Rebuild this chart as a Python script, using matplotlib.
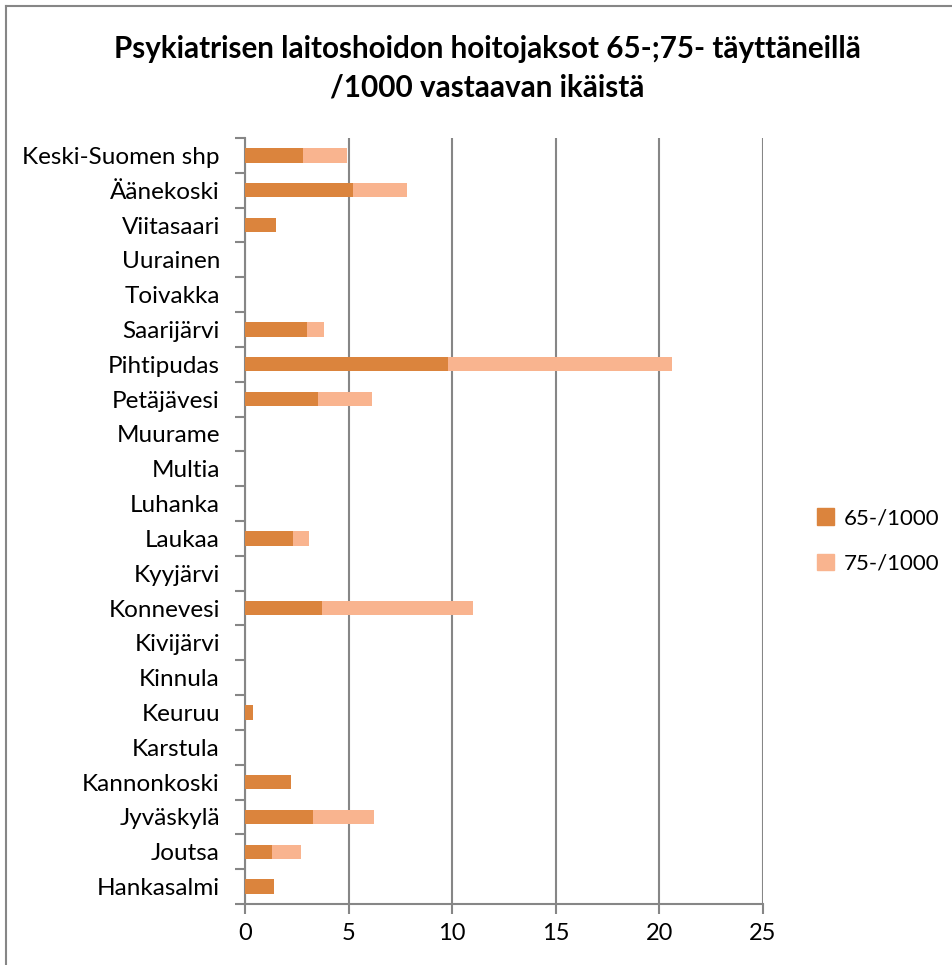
import matplotlib.pyplot as plt
import matplotlib.lines as mlines
from matplotlib.patches import Patch

# categories from bottom to top
kunnat = ['Hankasalmi', 'Joutsa', 'Jyväskylä', 'Kannonkoski', 'Karstula', 'Keuruu',
          'Kinnula', 'Kivijärvi', 'Konnevesi', 'Kyyjärvi', 'Laukaa', 'Luhanka',
          'Multia', 'Muurame', 'Petäjävesi', 'Pihtipudas', 'Saarijärvi', 'Toivakka',
          'Uurainen', 'Viitasaari', 'Äänekoski', 'Keski-Suomen shp']
v65 = [1.42, 1.29, 3.27, 2.21, 0, 0.40, 0, 0, 3.71, 0, 2.31, 0,
       0, 0, 3.50, 9.81, 2.98, 0, 0, 1.52, 5.21, 2.79]
v75 = [0, 1.42, 2.94, 0, 0, 0, 0, 0, 7.30, 0, 0.79, 0,
       0, 0, 2.61, 10.82, 0.84, 0, 0, 0, 2.60, 2.13]

c65 = '#DB843D'
c75 = '#F9B48F'
grid_c = '#868686'
plt.rcParams['font.family'] = ['Lato', 'DejaVu Sans']

fig = plt.figure(figsize=(9.52, 9.65), dpi=100)
ax = fig.add_axes([245 / 952, 1 - 904 / 965, (763 - 245) / 952, (904 - 138) / 965])

y = list(range(len(kunnat)))
ax.barh(y, v65, height=0.41, color=c65, label='65-/1000', zorder=3)
ax.barh(y, v75, left=v65, height=0.41, color=c75, label='75-/1000', zorder=3)

ax.set_xlim(0, 25)
ax.set_ylim(-0.5, len(kunnat) - 0.5)
ax.set_xticks([0, 5, 10, 15, 20, 25])
ax.xaxis.grid(True, color=grid_c, linewidth=1.5, zorder=0)
ax.set_yticks(y)
ax.set_yticklabels(kunnat, fontsize=17.5)
ax.set_yticks([i - 0.5 for i in range(len(kunnat) + 1)], minor=True)
ax.tick_params(axis='y', which='major', length=0, pad=18)
ax.tick_params(axis='y', which='minor', length=7, width=1.5, color=grid_c)
ax.tick_params(axis='x', length=7, width=1.5, color=grid_c, labelsize=17, pad=7)
for s in ['top', 'right']:
    ax.spines[s].set_visible(False)
for s in ['left', 'bottom']:
    ax.spines[s].set_color(grid_c)
    ax.spines[s].set_linewidth(1.5)

handles = [Patch(color=c65, label='65-/1000'), Patch(color=c75, label='75-/1000')]
fig.legend(handles=handles, loc='center left', bbox_to_anchor=(817 / 952, 1 - 541 / 965),
           frameon=False, fontsize=16, handlelength=0.75, handleheight=0.75,
           handletextpad=0.45, labelspacing=1.15, borderpad=0, borderaxespad=0)

fig.text(487 / 952, 1 - 68 / 965,
         'Psykiatrisen laitoshoidon hoitojaksot 65-;75- täyttäneillä\n/1000 vastaavan ikäistä',
         ha='center', va='center', fontsize=21.3, fontweight='bold', linespacing=1.45)

# chart border (left and top edges visible)
fig.add_artist(mlines.Line2D([6 / 952, 6 / 952], [0, 1 - 6 / 965], color=grid_c, linewidth=1.5))
fig.add_artist(mlines.Line2D([6 / 952, 1], [1 - 6 / 965, 1 - 6 / 965], color=grid_c, linewidth=1.5))

fig.savefig('out.png', dpi=100)
